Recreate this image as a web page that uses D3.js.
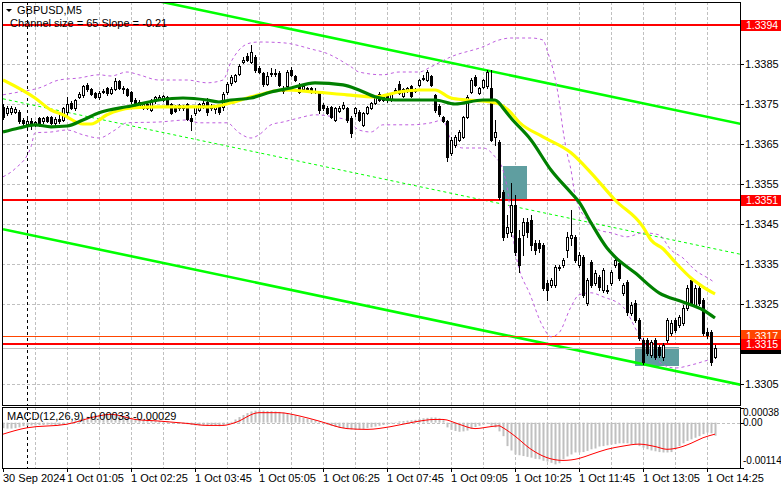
<!DOCTYPE html>
<html><head><meta charset="utf-8">
<script src="https://cdn.jsdelivr.net/npm/d3@7"></script>
<style>
body{margin:0;background:#fff;}
svg{display:block;}
text{font-family:"Liberation Sans Narrow","Liberation Sans",Arial,sans-serif;font-size:11px;}
</style>
</head><body>
<svg id="c" width="781" height="489"></svg>
<script>
// ---------------- DATA ----------------
const symbolTitle = "GBPUSD,M5";
const channelText = "Channel size = 65 Slope = -0.21";
const macdTitle = "MACD(12,26,9) -0.00033 -0.00029";
const timeLabelBars = [0,16,32,48,64,80,96,112,128,144,160,176];
const timeLabels = ["30 Sep 2024","1 Oct 01:05","1 Oct 02:25","1 Oct 03:45","1 Oct 05:05","1 Oct 06:25","1 Oct 07:45","1 Oct 09:05","1 Oct 10:25","1 Oct 11:45","1 Oct 13:05","1 Oct 14:25"];
const separatorBar = 6;
const priceTicks = [1.3305,1.3315,1.3325,1.3335,1.3345,1.3355,1.3365,1.3375,1.3385,1.3395];
const macdTicks = [0.00038,0.0,-0.00114];
const macdTickLabels = ["0.00038","0.00","-0.00114"];

const openP = [1.33743,1.33728,1.33730,1.33730,1.33730,1.33710,1.33700,1.33708,1.33700,1.33715,1.33708,1.33718,1.33718,1.33703,1.33713,1.33710,1.33730,1.33753,1.33740,1.33768,1.33773,1.33798,1.33788,1.33778,1.33768,1.33780,1.33790,1.33778,1.33788,1.33808,1.33790,1.33788,1.33780,1.33760,1.33745,1.33740,1.33750,1.33735,1.33758,1.33763,1.33760,1.33768,1.33750,1.33743,1.33748,1.33740,1.33750,1.33715,1.33728,1.33735,1.33748,1.33755,1.33745,1.33738,1.33743,1.33743,1.33780,1.33803,1.33808,1.33825,1.33855,1.33870,1.33855,1.33868,1.33840,1.33828,1.33800,1.33825,1.33825,1.33828,1.33783,1.33795,1.33835,1.33820,1.33798,1.33788,1.33790,1.33790,1.33783,1.33780,1.33748,1.33740,1.33743,1.33710,1.33733,1.33740,1.33740,1.33715,1.33728,1.33730,1.33698,1.33728,1.33740,1.33753,1.33775,1.33773,1.33775,1.33760,1.33783,1.33800,1.33770,1.33783,1.33795,1.33783,1.33798,1.33813,1.33810,1.33820,1.33773,1.33745,1.33718,1.33708,1.33628,1.33648,1.33660,1.33668,1.33718,1.33780,1.33818,1.33778,1.33793,1.33795,1.33790,1.33668,1.33655,1.33530,1.33428,1.33430,1.33498,1.33415,1.33423,1.33455,1.33460,1.33403,1.33403,1.33398,1.33303,1.33298,1.33298,1.33340,1.33348,1.33385,1.33415,1.33418,1.33348,1.33368,1.33253,1.33355,1.33303,1.33318,1.33285,1.33285,1.33303,1.33348,1.33353,1.33278,1.33305,1.33228,1.33253,1.33210,1.33160,1.33160,1.33123,1.33160,1.33143,1.33118,1.33160,1.33178,1.33210,1.33198,1.33203,1.33240,1.33310,1.33248,1.33290,1.33260,1.33180,1.33180,1.33118];
const highP = [1.33750,1.33745,1.33745,1.33743,1.33735,1.33715,1.33713,1.33715,1.33708,1.33718,1.33718,1.33720,1.33720,1.33718,1.33728,1.33743,1.33768,1.33758,1.33763,1.33780,1.33798,1.33803,1.33790,1.33780,1.33783,1.33788,1.33793,1.33793,1.33815,1.33810,1.33795,1.33790,1.33783,1.33765,1.33760,1.33753,1.33753,1.33763,1.33770,1.33773,1.33773,1.33770,1.33753,1.33748,1.33750,1.33748,1.33753,1.33723,1.33745,1.33753,1.33760,1.33765,1.33750,1.33748,1.33748,1.33780,1.33805,1.33823,1.33825,1.33850,1.33868,1.33878,1.33898,1.33873,1.33845,1.33830,1.33830,1.33840,1.33838,1.33833,1.33795,1.33835,1.33843,1.33823,1.33803,1.33800,1.33793,1.33793,1.33790,1.33783,1.33753,1.33745,1.33745,1.33743,1.33745,1.33755,1.33743,1.33720,1.33743,1.33735,1.33730,1.33745,1.33755,1.33770,1.33780,1.33775,1.33778,1.33778,1.33790,1.33808,1.33790,1.33793,1.33798,1.33790,1.33813,1.33823,1.33835,1.33823,1.33775,1.33750,1.33720,1.33710,1.33668,1.33673,1.33685,1.33720,1.33773,1.33815,1.33823,1.33793,1.33813,1.33835,1.33835,1.33710,1.33660,1.33535,1.33473,1.33553,1.33523,1.33435,1.33465,1.33465,1.33473,1.33410,1.33410,1.33403,1.33310,1.33315,1.33348,1.33348,1.33365,1.33430,1.33485,1.33423,1.33380,1.33373,1.33315,1.33360,1.33335,1.33323,1.33340,1.33298,1.33335,1.33368,1.33360,1.33303,1.33310,1.33255,1.33260,1.33215,1.33165,1.33165,1.33160,1.33165,1.33148,1.33153,1.33215,1.33210,1.33215,1.33223,1.33248,1.33298,1.33315,1.33298,1.33295,1.33265,1.33190,1.33185,1.33148];
const lowP = [1.33713,1.33723,1.33725,1.33728,1.33703,1.33693,1.33693,1.33688,1.33695,1.33695,1.33703,1.33705,1.33700,1.33698,1.33703,1.33708,1.33723,1.33738,1.33735,1.33765,1.33768,1.33783,1.33773,1.33765,1.33763,1.33778,1.33773,1.33775,1.33785,1.33788,1.33778,1.33770,1.33753,1.33745,1.33743,1.33738,1.33738,1.33733,1.33753,1.33760,1.33758,1.33743,1.33725,1.33730,1.33735,1.33735,1.33710,1.33685,1.33723,1.33733,1.33740,1.33723,1.33735,1.33728,1.33725,1.33735,1.33775,1.33798,1.33805,1.33823,1.33853,1.33858,1.33853,1.33830,1.33828,1.33795,1.33798,1.33820,1.33820,1.33795,1.33778,1.33790,1.33820,1.33808,1.33778,1.33785,1.33780,1.33778,1.33778,1.33728,1.33735,1.33725,1.33715,1.33708,1.33730,1.33738,1.33705,1.33668,1.33720,1.33708,1.33695,1.33725,1.33738,1.33750,1.33758,1.33758,1.33755,1.33758,1.33780,1.33775,1.33768,1.33780,1.33768,1.33780,1.33795,1.33810,1.33808,1.33795,1.33730,1.33720,1.33705,1.33608,1.33623,1.33643,1.33658,1.33665,1.33715,1.33778,1.33795,1.33775,1.33790,1.33790,1.33658,1.33648,1.33513,1.33410,1.33418,1.33420,1.33373,1.33330,1.33373,1.33418,1.33385,1.33375,1.33380,1.33285,1.33260,1.33293,1.33293,1.33335,1.33343,1.33368,1.33398,1.33355,1.33343,1.33268,1.33248,1.33293,1.33298,1.33285,1.33280,1.33278,1.33298,1.33343,1.33310,1.33273,1.33223,1.33223,1.33205,1.33160,1.33100,1.33123,1.33118,1.33113,1.33118,1.33110,1.33155,1.33173,1.33180,1.33193,1.33198,1.33235,1.33248,1.33243,1.33248,1.33173,1.33165,1.33098,1.33115];
const closeP = [1.33718,1.33740,1.33740,1.33738,1.33708,1.33703,1.33708,1.33700,1.33705,1.33700,1.33715,1.33708,1.33703,1.33713,1.33708,1.33740,1.33750,1.33740,1.33760,1.33775,1.33795,1.33788,1.33775,1.33768,1.33778,1.33783,1.33778,1.33788,1.33808,1.33790,1.33788,1.33773,1.33758,1.33748,1.33755,1.33750,1.33740,1.33760,1.33768,1.33768,1.33770,1.33745,1.33728,1.33733,1.33740,1.33743,1.33713,1.33708,1.33743,1.33750,1.33753,1.33730,1.33740,1.33743,1.33730,1.33775,1.33800,1.33818,1.33823,1.33845,1.33860,1.33860,1.33880,1.33835,1.33830,1.33800,1.33820,1.33828,1.33828,1.33798,1.33790,1.33830,1.33823,1.33810,1.33780,1.33795,1.33783,1.33780,1.33783,1.33735,1.33740,1.33728,1.33718,1.33740,1.33740,1.33748,1.33710,1.33678,1.33740,1.33710,1.33728,1.33743,1.33753,1.33768,1.33760,1.33760,1.33760,1.33775,1.33785,1.33778,1.33788,1.33790,1.33770,1.33788,1.33810,1.33815,1.33830,1.33798,1.33735,1.33725,1.33708,1.33618,1.33660,1.33668,1.33680,1.33718,1.33768,1.33810,1.33798,1.33790,1.33810,1.33830,1.33660,1.33680,1.33518,1.33418,1.33443,1.33498,1.33380,1.33348,1.33455,1.33430,1.33398,1.33385,1.33390,1.33290,1.33285,1.33310,1.33343,1.33343,1.33360,1.33418,1.33423,1.33360,1.33373,1.33273,1.33310,1.33298,1.33328,1.33293,1.33335,1.33283,1.33330,1.33360,1.33315,1.33298,1.33230,1.33248,1.33210,1.33165,1.33105,1.33128,1.33155,1.33118,1.33123,1.33148,1.33210,1.33203,1.33185,1.33218,1.33240,1.33290,1.33253,1.33290,1.33253,1.33178,1.33173,1.33105,1.33140];

// moving averages (bar index, price)
const maSlowBars = [0,8,12,15,20,22,26,32,39,45,52,57,62,64,70,78,86,93,99,104,108,112,116,122,125,127,129,135,142,147,153,160,162,165,168,172,175,178];
const maSlowVals = [1.33810,1.33765,1.33735,1.33723,1.33700,1.33700,1.33723,1.33740,1.33743,1.33743,1.33743,1.33753,1.33768,1.33773,1.33785,1.33780,1.33773,1.33768,1.33780,1.33785,1.33785,1.33765,1.33760,1.33755,1.33745,1.33728,1.33705,1.33668,1.33628,1.33578,1.33510,1.33443,1.33410,1.33388,1.33355,1.33315,1.33293,1.33275];
const maFastBars = [0,4,8,12,16,20,24,32,39,45,51,54,57,62,67,72,78,85,89,93,98,103,108,113,120,123,124,125,127,132,137,142,144,147,151,153,158,164,170,175,178];
const maFastVals = [1.33680,1.33690,1.33698,1.33693,1.33695,1.33710,1.33728,1.33745,1.33760,1.33765,1.33760,1.33755,1.33760,1.33765,1.33780,1.33790,1.33803,1.33798,1.33785,1.33768,1.33760,1.33760,1.33760,1.33750,1.33760,1.33760,1.33753,1.33740,1.33715,1.33660,1.33585,1.33528,1.33505,1.33453,1.33390,1.33368,1.33328,1.33278,1.33255,1.33235,1.33215];
// envelope bands
const bandUpBars = [0,4,9,14,19,24,27,31,34,39,46,51,55,57,59,62,64,70,78,80,87,89,95,99,104,107,112,120,124,127,132,135,136,139,140,141,142,143,146,149,152,156,160,164,167,170,173,177,178];
const bandUpVals = [1.33773,1.33780,1.33790,1.33810,1.33815,1.33823,1.33820,1.33830,1.33823,1.33810,1.33810,1.33803,1.33810,1.33855,1.33885,1.33903,1.33905,1.33903,1.33885,1.33880,1.33843,1.33830,1.33823,1.33830,1.33830,1.33843,1.33868,1.33893,1.33910,1.33915,1.33915,1.33910,1.33885,1.33760,1.33685,1.33628,1.33585,1.33523,1.33460,1.33435,1.33428,1.33418,1.33428,1.33423,1.33385,1.33365,1.33335,1.33310,1.33303];
const bandLoBars = [0,3,7,8,12,16,20,24,28,31,39,46,49,56,59,62,64,67,70,74,78,84,86,89,92,95,102,107,110,112,115,120,123,125,126,128,132,135,137,139,142,144,147,150,155,159,163,168,173,177,178];
const bandLoVals = [1.33568,1.33588,1.33643,1.33678,1.33680,1.33685,1.33673,1.33665,1.33685,1.33703,1.33705,1.33710,1.33703,1.33703,1.33678,1.33665,1.33673,1.33698,1.33705,1.33715,1.33723,1.33715,1.33710,1.33685,1.33680,1.33698,1.33698,1.33703,1.33710,1.33660,1.33640,1.33640,1.33618,1.33585,1.33543,1.33385,1.33268,1.33193,1.33168,1.33178,1.33243,1.33273,1.33278,1.33268,1.33243,1.33173,1.33115,1.33090,1.33100,1.33110,1.33105];

// trend channel (bar index, price) endpoints
const channelBars = [0,185];
const channelUpper = [1.34089,1.33699];
const channelMid = [1.33763,1.33373];
const channelLower = [1.33437,1.33047];

// horizontal levels
const levelPrices = [1.33947,1.3351,1.3315];
const levelLabels = ["1.3394","1.3351","1.3315"];
const orangeLevel = 1.3317;
const orangeLabel = "1.3317";
const bidPrice = 1.3314;
const bidLabel = "1.3314";

// highlight zones [startBar, endBar, topPrice, bottomPrice]
const zoneStart = [125,158];
const zoneEnd = [131,169];
const zoneTop = [1.33595,1.33142];
const zoneBottom = [1.3351,1.33095];

// MACD
const macdHist = [-14,-15,-15,-14,-12,-9,-8,-7,-7,-6,-6,-5,-5,-6,-6,-5,-2,2,6,9,12,15,17,18,19,20,20,19,20,19,17,15,12,10,8,7,6,5,4,4,3,3,1,0,-1,-2,-4,-6,-7,-7,-7,-8,-8,-8,-9,-7,-3,2,8,14,19,24,28,30,31,30,29,29,28,27,25,22,20,18,15,12,10,8,6,3,-2,-5,-8,-11,-13,-14,-15,-17,-18,-17,-16,-14,-12,-10,-8,-6,-4,-2,1,3,4,5,6,7,9,11,12,13,13,11,6,-12,-18,-21,-23,-22,-20,-15,-11,-8,-5,-3,-8,-12,-22,-34,-59,-70,-80,-82,-84,-86,-88,-91,-92,-96,-98,-101,-105,-102,-92,-85,-80,-75,-75,-74,-71,-67,-65,-60,-59,-57,-55,-54,-52,-52,-52,-54,-55,-59,-63,-67,-70,-72,-74,-75,-75,-74,-67,-59,-52,-46,-42,-38,-34,-29,-25,-27,-33].map(v=>v*1e-5);
const signalBars = [0,6,16,24,27,33,39,46,51,55,58,64,69,74,79,86,91,97,103,108,110,114,118,122,124,125,128,132,136,140,144,147,151,155,159,163,166,168,172,175,178];
const signalVals = [-29,-13,-4,17,21,8,4,-2,-7,-7,0,25,25,17,4,-15,-17,-10,2,8,8,-4,-15,-10,-8,-13,-34,-67,-88,-95,-90,-80,-67,-59,-54,-60,-67,-65,-52,-38,-29].map(v=>v*1e-5);

// ---------------- LAYOUT ----------------
const svg = d3.select("#c");
const PL = 2, PR = 740, PT = 2, PB = 405;
const MT = 407, MB = 468;
const x = d3.scaleLinear().domain([-0.25, 184.25]).range([2, 740]);
const y = d3.scaleLinear().domain([1.3305, 1.3385]).range([384, 64]);
const ym = d3.scaleLinear().domain([-0.00114, 0.00038]).range([468, 407.5]);
const px = i => Math.round(x(i)) + 0.5;
const py = p => Math.round(y(p));

svg.append("rect").attr("width",781).attr("height",489).attr("fill","#fff");

const defs = svg.append("defs");
defs.append("clipPath").attr("id","mainClip").append("rect").attr("x",PL+1).attr("y",PT+1).attr("width",PR-PL-1).attr("height",PB-PT-1);
defs.append("clipPath").attr("id","macdClip").append("rect").attr("x",PL+1).attr("y",MT+1).attr("width",PR-PL-1).attr("height",MB-MT-1);

const main = svg.append("g").attr("clip-path","url(#mainClip)");
const macd = svg.append("g").attr("clip-path","url(#macdClip)");

const gridCol = "#c0c0c0";
// vertical grid
const vBars = d3.range(8, 184, 8);
[ [main,PT,PB], [macd,MT,MB] ].forEach(([g,t,b]) => {
  g.selectAll(null).data(vBars).enter().append("line")
    .attr("x1",d=>px(d)).attr("x2",d=>px(d)).attr("y1",t).attr("y2",b)
    .attr("stroke",gridCol).attr("stroke-dasharray","3,2").attr("shape-rendering","crispEdges");
});
// horizontal grid
main.selectAll(null).data(priceTicks).enter().append("line")
  .attr("x1",PL).attr("x2",PR).attr("y1",d=>py(d)+0.5).attr("y2",d=>py(d)+0.5)
  .attr("stroke",gridCol).attr("stroke-dasharray","3,2").attr("shape-rendering","crispEdges");
macd.append("line").attr("x1",PL).attr("x2",PR).attr("y1",Math.round(ym(0))+0.5).attr("y2",Math.round(ym(0))+0.5)
  .attr("stroke",gridCol).attr("stroke-dasharray","3,2").attr("shape-rendering","crispEdges");

// zones
main.selectAll(null).data(zoneStart).enter().append("rect")
  .attr("x",(d,i)=>x(d)).attr("width",(d,i)=>x(zoneEnd[i])-x(d))
  .attr("y",(d,i)=>y(zoneTop[i])).attr("height",(d,i)=>y(zoneBottom[i])-y(zoneTop[i]))
  .attr("fill","#5f9ea0");

// separator
[ [main,PT,PB], [macd,MT,MB] ].forEach(([g,t,b]) => {
  g.append("line").attr("x1",px(separatorBar)).attr("x2",px(separatorBar)).attr("y1",t).attr("y2",b)
   .attr("stroke","#000").attr("stroke-dasharray","3,3").attr("shape-rendering","crispEdges");
});

// channel
const chLine = vals => d3.line().x((d,i)=>x(channelBars[i])).y(d=>y(d))(vals);
main.append("path").attr("d",chLine(channelMid)).attr("fill","none").attr("stroke","#00ff00").attr("stroke-width",1).attr("stroke-dasharray","3,3");
main.append("path").attr("d",chLine(channelUpper)).attr("fill","none").attr("stroke","#00ff00").attr("stroke-width",2.6);
main.append("path").attr("d",chLine(channelLower)).attr("fill","none").attr("stroke","#00ff00").attr("stroke-width",2.6);

// title texts (under level lines)
svg.append("path").attr("d","M6,9 L12,9 L9,12 Z").attr("fill","#000");
svg.append("text").attr("x",17).attr("y",14).text(symbolTitle).attr("fill","#000");
svg.append("text").attr("x",10).attr("y",27).text(channelText).attr("fill","#000");

// level lines
main.append("line").attr("x1",PL).attr("x2",PR).attr("y1",Math.round(y(bidPrice))+0.5).attr("y2",Math.round(y(bidPrice))+0.5)
  .attr("stroke","#c0c0c0").attr("shape-rendering","crispEdges");
main.append("line").attr("x1",PL).attr("x2",PR).attr("y1",Math.round(y(orangeLevel))+0.5).attr("y2",Math.round(y(orangeLevel))+0.5)
  .attr("stroke","#ff4500").attr("shape-rendering","crispEdges");
main.selectAll(null).data(levelPrices).enter().append("rect")
  .attr("x",PL).attr("width",PR-PL).attr("y",d=>Math.round(y(d))-1).attr("height",2).attr("fill","#ff0000");

// bands
const lineFrom = (bars, vals, sc) => d3.line().curve(d3.curveMonotoneX).x((d,i)=>x(bars[i])).y(d=>sc(d))(vals);
main.append("path").attr("d",lineFrom(bandUpBars,bandUpVals,y)).attr("fill","none").attr("stroke","#bf5fdf").attr("stroke-dasharray","3,3");
main.append("path").attr("d",lineFrom(bandLoBars,bandLoVals,y)).attr("fill","none").attr("stroke","#bf5fdf").attr("stroke-dasharray","3,3");

// candles
const bars = d3.range(openP.length);
const cg = main.append("g").attr("shape-rendering","crispEdges");
cg.selectAll(null).data(bars).enter().append("line")
  .attr("x1",px).attr("x2",px).attr("y1",i=>py(highP[i])).attr("y2",i=>py(lowP[i])+1)
  .attr("stroke","#000");
bars.forEach(i => {
  const o = py(openP[i]), c = py(closeP[i]);
  const cx = px(i);
  if (Math.abs(o-c) < 1) {
    cg.append("rect").attr("x",cx-1.5).attr("y",o).attr("width",3).attr("height",1).attr("fill","#000");
  } else if (closeP[i] < openP[i]) {
    cg.append("rect").attr("x",cx-1.5).attr("y",o).attr("width",3).attr("height",c-o+1).attr("fill","#000");
  } else {
    cg.append("rect").attr("x",cx-1).attr("y",c+0.5).attr("width",2).attr("height",o-c).attr("fill","#fff").attr("stroke","#000");
  }
});

// moving averages
main.append("path").attr("d",lineFrom(maSlowBars,maSlowVals,y)).attr("fill","none").attr("stroke","#ffff00").attr("stroke-width",3.2).attr("stroke-linejoin","round");
main.append("path").attr("d",lineFrom(maFastBars,maFastVals,y)).attr("fill","none").attr("stroke","#008000").attr("stroke-width",3.2).attr("stroke-linejoin","round");

// MACD histogram + signal
macd.selectAll(null).data(bars).enter().append("rect")
  .attr("x",i=>Math.round(x(i))-0.5).attr("width",2)
  .attr("y",i=>Math.min(ym(macdHist[i]),ym(0))).attr("height",i=>Math.abs(ym(macdHist[i])-ym(0)))
  .attr("fill","#c0c0c0");
macd.append("path").attr("d",lineFrom(signalBars,signalVals,ym)).attr("fill","none").attr("stroke","#ff0000").attr("stroke-width",1);
svg.append("text").attr("x",7).attr("y",420).text(macdTitle).attr("fill","#000");

// panel borders
svg.append("rect").attr("x",PL+0.5).attr("y",PT+0.5).attr("width",PR-PL).attr("height",PB-PT).attr("fill","none").attr("stroke","#000");
svg.append("rect").attr("x",PL+0.5).attr("y",MT+0.5).attr("width",PR-PL).attr("height",MB-MT).attr("fill","none").attr("stroke","#000");

// price axis (labels hidden behind the coloured level labels are skipped)
const hiddenTicks = [1.3315, 1.3395];
const shownTicks = priceTicks.filter(t => !hiddenTicks.some(h => Math.abs(h - t) < 1e-7));
const ax = svg.append("g");
ax.selectAll(null).data(priceTicks).enter().append("line")
  .attr("x1",PR).attr("x2",PR+4).attr("y1",d=>py(d)+0.5).attr("y2",d=>py(d)+0.5).attr("stroke","#000");
ax.selectAll(null).data(shownTicks).enter().append("text")
  .attr("x",PR+5).attr("y",d=>py(d)+4).text(d=>d.toFixed(4)).attr("fill","#000");
// macd axis
ax.selectAll(null).data(macdTicks).enter().append("line")
  .attr("x1",PR).attr("x2",PR+4).attr("y1",d=>Math.round(ym(d))+0.5).attr("y2",d=>Math.round(ym(d))+0.5).attr("stroke","#000");
ax.selectAll(null).data(macdTicks).enter().append("text")
  .attr("x",PR+3).attr("y",d=>Math.min(Math.max(ym(d),MT+5.5),MB-8)+3.5).text((d,i)=>macdTickLabels[i]).attr("fill","#000")
  .style("font-size","10px");
// time axis
ax.selectAll(null).data(timeLabelBars).enter().append("line")
  .attr("x1",px).attr("x2",px).attr("y1",MB).attr("y2",MB+4).attr("stroke","#000");
ax.selectAll(null).data(timeLabelBars).enter().append("text")
  .attr("x",d=>Math.round(x(d))).attr("y",482).text((d,i)=>timeLabels[i]).attr("fill","#000");

// price labels
function priceLabel(p, txt, bg, fg, showText){
  const cy = y(p);
  svg.append("rect").attr("x",PR+1).attr("y",Math.round(cy-5.5)).attr("width",40).attr("height",11).attr("fill",bg);
  if (showText) svg.append("text").attr("x",PR+6).attr("y",Math.round(cy)+3.5).text(txt).attr("fill",fg).style("font-size","10.5px");
}
// bid label is almost fully covered by the red label: draw only its box
priceLabel(bidPrice, bidLabel, "#000", "#fff", false);
priceLabel(orangeLevel, orangeLabel, "#ff4500", "#fff", true);
levelPrices.forEach((p,i)=>priceLabel(p, levelLabels[i], "#ff0000", "#fff", true));
</script>
</body></html>
